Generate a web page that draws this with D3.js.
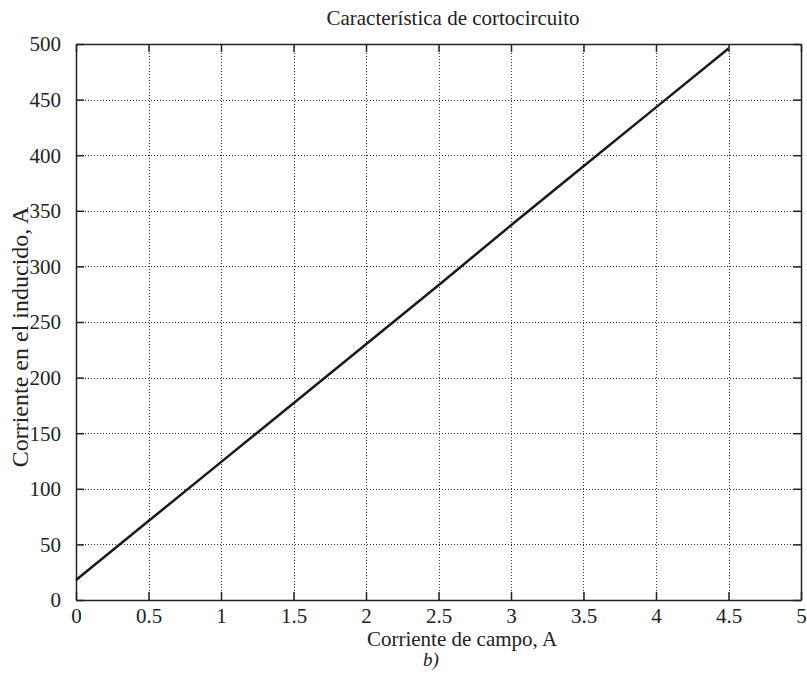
<!DOCTYPE html>
<html>
<head>
<meta charset="utf-8">
<script src="https://cdn.jsdelivr.net/npm/d3@7"></script>
<style>
  html, body { margin: 0; padding: 0; background: #fff; }
  svg { display: block; }
  svg text { font-family: "Liberation Serif", "Times New Roman", serif !important; fill: #222; }
</style>
</head>
<body>
<svg id="chart" width="807" height="674"></svg>
<script>
const fieldCurrent = [0, 0.5, 1, 1.5, 2, 2.5, 3, 3.5, 4, 4.5];
const armatureCurrent = [18, 71, 124, 177, 230, 283, 337, 390, 443, 496];
const xTicks = [0, 0.5, 1, 1.5, 2, 2.5, 3, 3.5, 4, 4.5, 5];
const yTicks = [0, 50, 100, 150, 200, 250, 300, 350, 400, 450, 500];
const titleText = "Característica de cortocircuito";
const xLabel = "Corriente de campo, A";
const yLabel = "Corriente en el inducido, A";
const subLabel = "b)";

const svg = d3.select("#chart");
const L = 76, R = 801, T = 44, B = 600;
const x = d3.scaleLinear().domain([0, 5]).range([L, R]);
const y = d3.scaleLinear().domain([0, 500]).range([B, T]);

// grid
const grid = svg.append("g").attr("stroke", "#333").attr("stroke-width", 1).attr("stroke-dasharray", "1,2");
grid.selectAll(".gx").data(xTicks.slice(1, -1)).join("line")
  .attr("x1", d => Math.round(x(d)) + 0.5).attr("x2", d => Math.round(x(d)) + 0.5)
  .attr("y1", T).attr("y2", B);
grid.selectAll(".gy").data(yTicks.slice(1, -1)).join("line")
  .attr("y1", d => Math.round(y(d)) + 0.5).attr("y2", d => Math.round(y(d)) + 0.5)
  .attr("x1", L).attr("x2", R);

// axes
const fmt = d => String(d);
const tl = 8;
const axB = svg.append("g").attr("transform", `translate(0,${B})`)
  .call(d3.axisBottom(x).tickValues(xTicks).tickFormat(fmt).tickSizeInner(-tl).tickSizeOuter(0).tickPadding(tl + 2));
const axT = svg.append("g").attr("transform", `translate(0,${T})`)
  .call(d3.axisTop(x).tickValues(xTicks).tickFormat("").tickSizeInner(-tl).tickSizeOuter(0));
const axL = svg.append("g").attr("transform", `translate(${L},0)`)
  .call(d3.axisLeft(y).tickValues(yTicks).tickFormat(fmt).tickSizeInner(-tl).tickSizeOuter(0).tickPadding(tl + 7));
const axR = svg.append("g").attr("transform", `translate(${R},0)`)
  .call(d3.axisRight(y).tickValues(yTicks).tickFormat("").tickSizeInner(-tl).tickSizeOuter(0));
[axB, axT, axL, axR].forEach(a => {
  a.attr("font-family", null);
  a.selectAll("path.domain").attr("stroke", "#222").attr("stroke-width", 1.5);
  a.selectAll(".tick line").attr("stroke", "#222").attr("stroke-width", 1.5);
  a.selectAll("text").style("font-family", "'Liberation Serif', serif").style("font-size", "21px").attr("fill", "#222");
});
axB.selectAll("text").attr("dy", "0.6em");
axL.selectAll("text").attr("dy", "0.33em");

// line
const line = d3.line().x((d, i) => x(fieldCurrent[i])).y(d => y(d));
svg.append("path").datum(armatureCurrent)
  .attr("d", line).attr("fill", "none").attr("stroke", "#1a1a1a").attr("stroke-width", 2.5);

// texts
svg.append("text").attr("x", 453).attr("y", 25).attr("text-anchor", "middle")
  .style("font-size", "21px").text(titleText);
svg.append("text").attr("x", 462).attr("y", 646).attr("text-anchor", "middle")
  .style("font-size", "21px").text(xLabel);
svg.append("text").attr("x", 431).attr("y", 666).attr("text-anchor", "middle")
  .style("font-size", "19px").style("font-style", "italic").text(subLabel);
svg.append("text").attr("transform", `translate(28,337) rotate(-90)`)
  .attr("text-anchor", "middle").style("font-size", "24px").text(yLabel);
</script>
</body>
</html>
